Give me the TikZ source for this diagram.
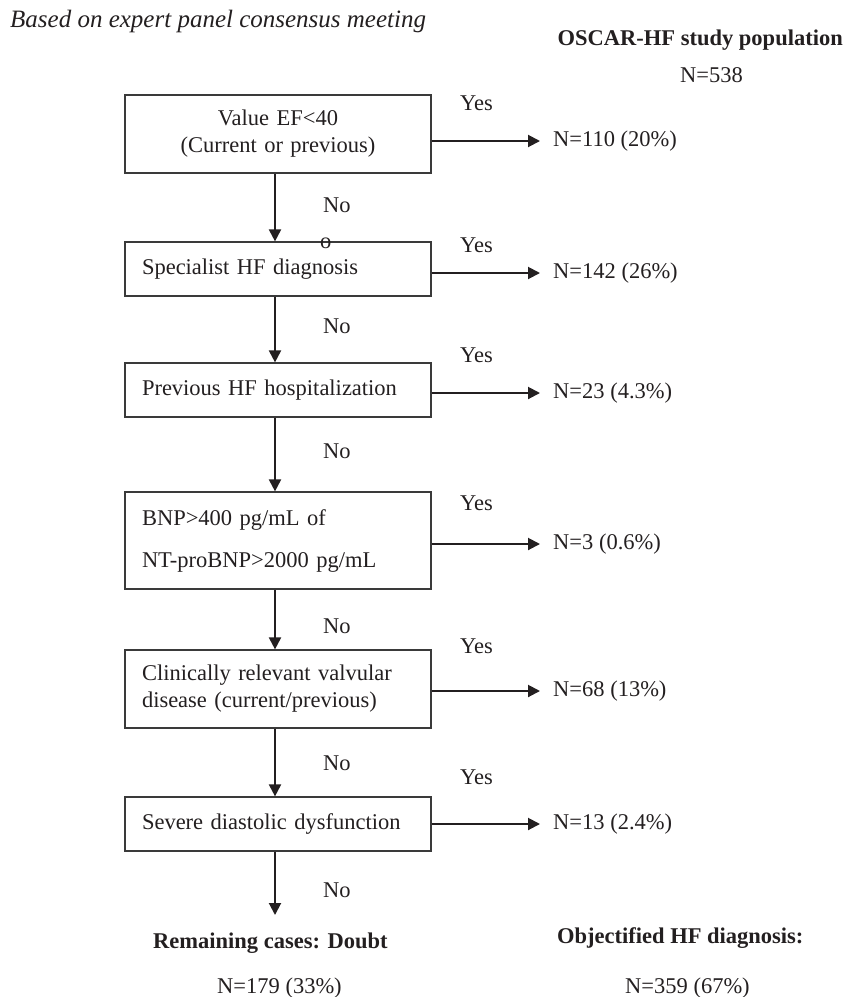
\documentclass[tikz,border=0pt]{standalone}
\usepackage{fontspec}
\setmainfont{Liberation Serif}
\usetikzlibrary{arrows.meta}
\definecolor{txt}{HTML}{231F20}
\definecolor{boxc}{HTML}{3A3A3A}
\begin{document}
\begin{tikzpicture}[x=1pt,y=-1pt,
  every node/.style={font=\fontsize{22.5}{27}\selectfont, text=txt, inner sep=0pt},
  box/.style={draw=boxc, line width=1.2pt, minimum width=306pt, text width=272pt,
    inner xsep=17pt, inner ysep=0pt, align=left},
  lbl/.style={anchor=base west},
  bf/.style={font=\fontsize{22.5}{27}\selectfont\bfseries},
  arr/.style={draw=txt, line width=2pt, -{Triangle[length=12pt,width=12pt]}},
]
\useasboundingbox (0,0) rectangle (845,997);

% header
\node[lbl, font=\fontsize{25}{30}\selectfont\itshape] (title) at (10,27) {Based on expert panel consensus meeting};
\node[anchor=base east, bf] (pop) at (843,45) {OSCAR-HF study population};
\node[lbl] (n538) at (680,82) {N=538};

% decision boxes
\node[box, minimum height=78pt, align=center] (b1) at (278,134) {Value EF<40\\(Current or previous)};
\node[box, minimum height=54pt] (b2) at (278,269) {Specialist HF diagnosis};
\node[box, minimum height=54pt] (b3) at (278,390) {Previous HF hospitalization};
\node[box, minimum height=97pt] (b4) at (278,540.5) {BNP>400 pg/mL of\\[15pt]NT-proBNP>2000 pg/mL};
\node[box, minimum height=78pt] (b5) at (278,689) {Clinically relevant valvular\\disease (current/previous)};
\node[box, minimum height=54pt] (b6) at (278,824) {Severe diastolic dysfunction};

% Yes labels
\node[lbl] (y1) at (460,110) {Yes};
\node[lbl] (y2) at (460,252) {Yes};
\node[lbl] (y3) at (460,362) {Yes};
\node[lbl] (y4) at (460,510) {Yes};
\node[lbl] (y5) at (460,653) {Yes};
\node[lbl] (y6) at (460,784) {Yes};

% No labels
\node[lbl] (no1) at (323,212) {No};
\node[lbl] (o1) at (320,248) {o};
\node[lbl] (no2) at (323,333) {No};
\node[lbl] (no3) at (323,458) {No};
\node[lbl] (no4) at (323,633) {No};
\node[lbl] (no5) at (323,770) {No};
\node[lbl] (no6) at (323,897) {No};

% result counts
\node[anchor=west] (n1) at (553,141) {N=110 (20\%)};
\node[anchor=west] (n2) at (553,273) {N=142 (26\%)};
\node[anchor=west] (n3) at (553,393) {N=23 (4.3\%)};
\node[anchor=west] (n4) at (553,544) {N=3 (0.6\%)};
\node[anchor=west] (n5) at (553,691) {N=68 (13\%)};
\node[anchor=west] (n6) at (553,824) {N=13 (2.4\%)};

% bottom summary
\node[lbl, bf] (rem) at (153,948) {Remaining cases: Doubt};
\node[lbl] (nrem) at (217,993) {N=179 (33\%)};
\node[lbl, bf] (obj) at (557,943) {Objectified HF diagnosis:};
\node[lbl] (nobj) at (625,993) {N=359 (67\%)};
\coordinate (endd) at (275,915);

% connectors: Yes branches
\foreach \i in {1,...,6} {
  \draw[arr] (b\i.east |- n\i.west) -- ([xshift=-13pt]n\i.west);
}
% connectors: No branches
\draw[arr] ([xshift=-3pt]b1.south) -- ([xshift=-3pt]b2.north);
\draw[arr] ([xshift=-3pt]b2.south) -- ([xshift=-3pt]b3.north);
\draw[arr] ([xshift=-3pt]b3.south) -- ([xshift=-3pt]b4.north);
\draw[arr] ([xshift=-3pt]b4.south) -- ([xshift=-3pt]b5.north);
\draw[arr] ([xshift=-3pt]b5.south) -- ([xshift=-3pt]b6.north);
\draw[arr] ([xshift=-3pt]b6.south) -- (endd);
\end{tikzpicture}
\end{document}
